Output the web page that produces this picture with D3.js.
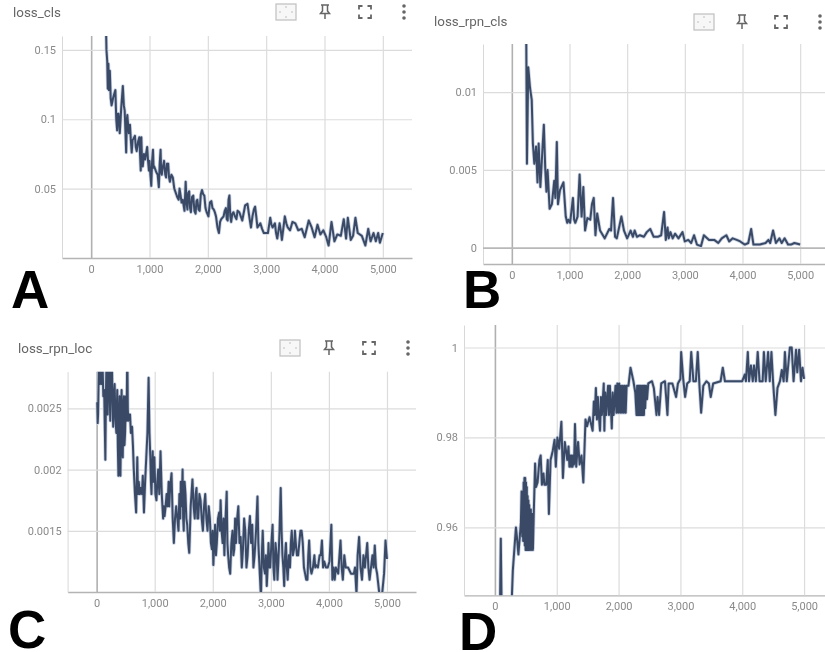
<!DOCTYPE html>
<html>
<head>
<meta charset="utf-8">
<script src="https://cdn.jsdelivr.net/npm/d3@7"></script>
<style>
  html, body { margin: 0; padding: 0; background: #fff; }
  svg { display: block; }
</style>
</head>
<body>
<div id="chart"></div>
<script>
// Values, as [step, value]
const xTicks = [0, 1000, 2000, 3000, 4000, 5000];

const yTicksA = [0.05, 0.1, 0.15];
const seriesA = [[250,0.175],[262,0.15],[275,0.142],[285,0.122],[295,0.14],[305,0.121],[320,0.135],[335,0.115],[350,0.11],[380,0.116],[415,0.121],[430,0.1],[445,0.092],[458,0.104],[470,0.104],[490,0.09],[505,0.1],[515,0.108],[543,0.124],[560,0.11],[575,0.106],[600,0.076],[612,0.1],[620,0.103],[635,0.095],[645,0.09],[665,0.096],[680,0.085],[695,0.076],[710,0.085],[725,0.086],[750,0.088],[765,0.08],[780,0.077],[805,0.084],[825,0.087],[850,0.063],[860,0.087],[872,0.07],[885,0.066],[905,0.075],[925,0.071],[960,0.08],[975,0.07],[990,0.063],[1000,0.07],[1015,0.06],[1030,0.052],[1045,0.07],[1060,0.078],[1070,0.065],[1080,0.066],[1115,0.062],[1140,0.06],[1160,0.051],[1175,0.068],[1190,0.078],[1200,0.062],[1210,0.06],[1230,0.066],[1250,0.07],[1270,0.06],[1285,0.058],[1300,0.068],[1320,0.068],[1335,0.058],[1350,0.055],[1375,0.06],[1400,0.058],[1425,0.05],[1450,0.047],[1475,0.044],[1500,0.042],[1515,0.05],[1530,0.046],[1550,0.04],[1570,0.042],[1600,0.034],[1620,0.055],[1635,0.04],[1650,0.035],[1665,0.047],[1680,0.048],[1695,0.036],[1710,0.033],[1730,0.044],[1750,0.045],[1770,0.034],[1790,0.032],[1805,0.041],[1820,0.042],[1840,0.035],[1860,0.034],[1880,0.046],[1900,0.049],[1920,0.046],[1940,0.045],[1960,0.036],[1980,0.033],[2010,0.03],[2035,0.04],[2060,0.041],[2080,0.036],[2100,0.035],[2120,0.033],[2140,0.03],[2165,0.022],[2190,0.018],[2210,0.026],[2230,0.028],[2270,0.03],[2290,0.034],[2310,0.036],[2325,0.028],[2340,0.027],[2355,0.042],[2370,0.045],[2385,0.03],[2400,0.026],[2420,0.032],[2440,0.033],[2465,0.03],[2490,0.028],[2510,0.034],[2540,0.033],[2565,0.03],[2590,0.027],[2640,0.038],[2680,0.039],[2710,0.03],[2740,0.022],[2765,0.03],[2790,0.035],[2810,0.037],[2830,0.03],[2850,0.022],[2900,0.025],[2930,0.021],[2960,0.018],[3030,0.018],[3070,0.029],[3090,0.024],[3110,0.022],[3150,0.025],[3170,0.018],[3190,0.014],[3230,0.025],[3250,0.02],[3270,0.013],[3320,0.03],[3345,0.025],[3370,0.022],[3410,0.02],[3450,0.026],[3500,0.025],[3550,0.02],[3610,0.021],[3660,0.015],[3730,0.027],[3780,0.022],[3830,0.015],[3880,0.024],[3930,0.017],[3980,0.02],[4030,0.015],[4070,0.009],[4120,0.026],[4170,0.012],[4220,0.017],[4280,0.016],[4330,0.028],[4370,0.014],[4400,0.029],[4450,0.013],[4490,0.016],[4530,0.029],[4570,0.018],[4640,0.016],[4700,0.009],[4750,0.021],[4790,0.012],[4840,0.018],[4880,0.012],[4920,0.018],[4950,0.011],[5000,0.018]];

const yTicksB = [0, 0.005, 0.01];
const seriesB = [[250,0.0135],[262,0.0054],[285,0.0116],[315,0.0103],[345,0.0095],[365,0.0067],[390,0.0054],[420,0.0065],[445,0.0042],[465,0.0067],[495,0.0039],[520,0.0056],[555,0.0079],[580,0.005],[600,0.0036],[620,0.005],[655,0.0025],[695,0.0028],[735,0.0043],[755,0.0032],[780,0.0068],[800,0.0028],[835,0.0037],[895,0.0042],[935,0.002],[960,0.0016],[980,0.0018],[1010,0.0016],[1060,0.0032],[1080,0.0018],[1100,0.0016],[1140,0.002],[1175,0.0047],[1210,0.002],[1240,0.0039],[1270,0.0011],[1310,0.0019],[1360,0.0018],[1390,0.0028],[1420,0.0032],[1450,0.0008],[1480,0.0022],[1530,0.0011],[1610,0.0006],[1690,0.0012],[1720,0.0011],[1755,0.0032],[1790,0.0007],[1820,0.0006],[1900,0.002],[1945,0.0011],[2000,0.0006],[2060,0.0011],[2100,0.0007],[2130,0.0011],[2170,0.0007],[2220,0.0008],[2290,0.0007],[2340,0.001],[2400,0.0012],[2460,0.0007],[2530,0.0007],[2590,0.0008],[2640,0.0023],[2670,0.0005],[2700,0.0013],[2720,0.0006],[2750,0.001],[2790,0.0006],[2830,0.0009],[2890,0.0006],[2960,0.001],[3000,0.0004],[3060,0.0005],[3110,0.0003],[3160,0.0008],[3210,0.0002],[3280,0.0001],[3330,0.0008],[3420,0.0005],[3510,0.0005],[3580,0.0003],[3640,0.0006],[3720,0.0008],[3770,0.0004],[3830,0.0006],[3900,0.0005],[3960,0.0004],[4040,0.0002],[4100,0.0003],[4150,0.0012],[4190,0.0002],[4300,0.0002],[4400,0.0003],[4450,0.0005],[4480,0.0003],[4530,0.0011],[4580,0.0003],[4640,0.0006],[4680,0.0003],[4730,0.0006],[4790,0.0002],[4840,0.0002],[4900,0.0003],[5000,0.0002]];

const yTicksC = [0.0015, 0.002, 0.0025];
const seriesC = [[10,0.00255],[18,0.00238],[25,0.00245],[40,0.0029],[55,0.0027],[70,0.003],[85,0.0027],[100,0.0029],[115,0.0026],[130,0.00265],[150,0.00208],[160,0.0026],[170,0.0029],[180,0.0025],[190,0.00245],[200,0.0028],[215,0.003],[225,0.0026],[235,0.0024],[248,0.0028],[260,0.003],[272,0.0026],[285,0.00235],[298,0.0026],[310,0.0027],[325,0.0024],[340,0.0023],[355,0.00265],[365,0.0022],[375,0.00195],[385,0.0024],[395,0.0026],[402,0.0021],[410,0.00195],[420,0.0024],[430,0.00265],[440,0.0022],[450,0.0021],[460,0.0025],[470,0.0026],[480,0.0022],[490,0.0023],[505,0.0026],[516,0.0024],[528,0.003],[537,0.0025],[545,0.0024],[560,0.00245],[575,0.00245],[590,0.0023],[610,0.00235],[625,0.0022],[640,0.002],[660,0.0018],[680,0.00165],[700,0.0021],[712,0.0018],[725,0.0019],[745,0.0018],[760,0.00185],[780,0.0018],[795,0.00195],[805,0.0018],[815,0.00165],[835,0.0019],[855,0.0021],[875,0.0023],[895,0.00275],[910,0.0023],[925,0.0021],[935,0.0019],[945,0.0018],[955,0.002],[965,0.00215],[980,0.0019],[995,0.0021],[1012,0.0018],[1030,0.00175],[1045,0.0019],[1060,0.002],[1080,0.0018],[1100,0.00215],[1122,0.0018],[1145,0.0016],[1158,0.0017],[1170,0.00162],[1188,0.0017],[1205,0.0018],[1222,0.0017],[1240,0.0019],[1250,0.0017],[1260,0.0018],[1275,0.0019],[1290,0.00197],[1310,0.0016],[1330,0.0014],[1350,0.0016],[1370,0.0017],[1390,0.0016],[1410,0.0015],[1425,0.0018],[1440,0.0016],[1450,0.0019],[1465,0.0017],[1480,0.002],[1490,0.0016],[1500,0.0015],[1515,0.0019],[1530,0.0018],[1545,0.0016],[1560,0.00155],[1578,0.0014],[1595,0.00132],[1620,0.0017],[1650,0.00192],[1670,0.0017],[1690,0.0016],[1705,0.0018],[1720,0.00185],[1735,0.0016],[1750,0.0016],[1770,0.0018],[1790,0.00175],[1810,0.0016],[1830,0.0015],[1850,0.0017],[1870,0.0018],[1890,0.0016],[1910,0.0015],[1930,0.0017],[1950,0.0016],[1968,0.0014],[1985,0.00135],[1998,0.0015],[2010,0.00122],[2025,0.0014],[2040,0.00155],[2055,0.0013],[2070,0.0014],[2090,0.0016],[2110,0.00165],[2122,0.0015],[2135,0.00175],[2152,0.0015],[2170,0.0014],[2185,0.0016],[2200,0.0013],[2220,0.0016],[2240,0.00182],[2252,0.0014],[2265,0.0013],[2282,0.0012],[2300,0.00115],[2320,0.0014],[2340,0.0015],[2355,0.0013],[2370,0.00135],[2385,0.0016],[2400,0.0014],[2420,0.0016],[2440,0.0017],[2460,0.0014],[2480,0.00145],[2500,0.0012],[2520,0.00135],[2540,0.0016],[2560,0.0015],[2580,0.0012],[2600,0.0013],[2620,0.0015],[2640,0.00162],[2660,0.0014],[2680,0.00155],[2700,0.0012],[2720,0.0013],[2745,0.0015],[2770,0.00178],[2785,0.0014],[2800,0.00125],[2815,0.0011],[2830,0.00095],[2845,0.0013],[2860,0.0015],[2880,0.0012],[2900,0.00115],[2915,0.0013],[2930,0.00105],[2945,0.0012],[2960,0.0014],[2975,0.0012],[2990,0.0012],[3010,0.0014],[3030,0.00155],[3045,0.0012],[3060,0.0011],[3080,0.0014],[3100,0.0013],[3115,0.0011],[3130,0.00125],[3150,0.0015],[3170,0.00185],[3185,0.0015],[3200,0.0013],[3215,0.0012],[3230,0.00105],[3245,0.0013],[3260,0.0014],[3275,0.0012],[3290,0.0011],[3310,0.0013],[3330,0.0012],[3345,0.0014],[3360,0.0015],[3380,0.0013],[3400,0.00135],[3415,0.0015],[3430,0.0014],[3450,0.0013],[3470,0.0013],[3490,0.0014],[3510,0.0015],[3530,0.0015],[3550,0.0014],[3570,0.0012],[3590,0.00115],[3610,0.0011],[3630,0.0011],[3645,0.0013],[3660,0.00142],[3680,0.0012],[3700,0.00115],[3725,0.0012],[3750,0.0013],[3765,0.0012],[3780,0.00122],[3810,0.0012],[3840,0.0013],[3860,0.0013],[3880,0.00142],[3900,0.0012],[3920,0.00125],[3950,0.0012],[3980,0.0012],[4010,0.00125],[4042,0.00155],[4060,0.0011],[4080,0.0012],[4100,0.0011],[4120,0.0012],[4160,0.00115],[4200,0.00142],[4220,0.0012],[4240,0.0011],[4265,0.0013],[4290,0.0012],[4330,0.0012],[4380,0.00115],[4430,0.00115],[4450,0.0012],[4475,0.00098],[4495,0.0013],[4520,0.00145],[4545,0.0012],[4570,0.0011],[4595,0.0013],[4620,0.0012],[4660,0.0014],[4680,0.0012],[4700,0.0011],[4725,0.0012],[4750,0.0013],[4770,0.0012],[4790,0.00138],[4810,0.0012],[4830,0.00115],[4870,0.00098],[4910,0.00095],[4950,0.00115],[4975,0.00142],[5000,0.00127]];

const yTicksD = [0.96, 0.98, 1];
const seriesD = [[80,0.94],[95,0.9575],[110,0.94],[270,0.943],[290,0.9505],[340,0.96],[355,0.958],[380,0.954],[420,0.961],[431,0.968],[442,0.958],[450,0.968],[457,0.957],[464,0.970],[470,0.957],[477,0.971],[483,0.956],[490,0.971],[496,0.955],[503,0.970],[509,0.955],[516,0.969],[522,0.955],[529,0.967],[535,0.955],[542,0.966],[548,0.955],[555,0.965],[561,0.955],[568,0.964],[574,0.955],[581,0.964],[587,0.955],[594,0.963],[600,0.955],[607,0.963],[615,0.955],[630,0.964],[650,0.9742],[665,0.969],[690,0.97],[720,0.975],[740,0.976],[760,0.9695],[785,0.972],[800,0.9695],[830,0.9695],[855,0.975],[873,0.963],[900,0.975],[935,0.977],[965,0.9795],[985,0.9735],[1010,0.98],[1040,0.9775],[1075,0.9835],[1100,0.971],[1130,0.979],[1170,0.975],[1190,0.978],[1205,0.9735],[1220,0.976],[1232,0.9735],[1244,0.976],[1256,0.9735],[1268,0.976],[1280,0.974],[1295,0.983],[1315,0.9735],[1345,0.979],[1370,0.974],[1400,0.976],[1430,0.97],[1465,0.984],[1490,0.9825],[1530,0.9845],[1580,0.9815],[1600,0.988],[1615,0.985],[1633,0.991],[1650,0.984],[1665,0.989],[1680,0.985],[1700,0.9815],[1715,0.989],[1730,0.985],[1760,0.992],[1770,0.9815],[1785,0.99],[1800,0.985],[1830,0.9915],[1845,0.985],[1860,0.9915],[1890,0.982],[1905,0.99],[1920,0.985],[1950,0.9915],[1965,0.9855],[1980,0.992],[1995,0.9855],[2010,0.992],[2025,0.9855],[2040,0.9915],[2055,0.9855],[2070,0.9915],[2085,0.9855],[2100,0.9915],[2115,0.9855],[2130,0.9915],[2160,0.9915],[2193,0.9955],[2240,0.9925],[2270,0.99],[2290,0.985],[2300,0.9915],[2310,0.985],[2320,0.9915],[2330,0.985],[2340,0.9915],[2350,0.985],[2360,0.9915],[2370,0.985],[2380,0.9915],[2390,0.985],[2400,0.9915],[2410,0.985],[2420,0.9915],[2430,0.9865],[2445,0.9915],[2460,0.9885],[2480,0.992],[2540,0.9925],[2570,0.991],[2613,0.985],[2630,0.989],[2655,0.985],[2690,0.992],[2750,0.9925],[2790,0.985],[2810,0.992],[2870,0.992],[2930,0.989],[2960,0.992],[3000,0.993],[3012,0.999],[3045,0.993],[3076,0.989],[3110,0.992],[3150,0.9925],[3175,0.999],[3210,0.9925],[3250,0.9925],[3280,0.999],[3310,0.991],[3335,0.9855],[3370,0.9915],[3420,0.9925],[3460,0.992],[3490,0.989],[3530,0.992],[3650,0.9925],[3685,0.9955],[3720,0.9925],[4000,0.9925],[4040,0.994],[4060,0.9925],[4090,0.999],[4110,0.9925],[4140,0.996],[4170,0.9925],[4190,0.996],[4220,0.9925],[4250,0.999],[4280,0.9925],[4330,0.9925],[4350,0.999],[4380,0.9925],[4418,0.999],[4445,0.9925],[4472,0.999],[4500,0.992],[4536,0.985],[4570,0.991],[4610,0.9925],[4640,0.995],[4670,0.9925],[4690,0.999],[4720,0.9925],[4770,1],[4800,1],[4830,0.9925],[4870,0.9995],[4890,0.9945],[4920,0.9995],[4950,0.9925],[4975,0.9955],[5000,0.993]];

const panels = [
  { title: "loss_cls", letter: "A", series: seriesA, yTicks: yTicksA, yDomain: [0, 0.16],
    box: [62, 412, 36, 258], titlePos: [13, 17], letterPos: [11, 308], icons: [286, 325, 365, 404, 12] },
  { title: "loss_rpn_cls", letter: "B", series: seriesB, yTicks: yTicksB, yDomain: [-0.00105, 0.0131],
    box: [483, 829, 44, 264], titlePos: [434, 26], letterPos: [463, 308], icons: [704, 742, 781, 820, 22] },
  { title: "loss_rpn_loc", letter: "C", series: seriesC, yTicks: yTicksC, yDomain: [0.001, 0.0028],
    box: [67.6, 416, 371.7, 592], titlePos: [18, 353], letterPos: [8, 648], icons: [290, 329, 369, 408, 348] },
  { title: "", letter: "D", series: seriesD, yTicks: yTicksD, yDomain: [0.9449, 1.005],
    box: [464, 835, 325, 595.3], titlePos: [0, 0], letterPos: [459, 650], icons: null }
];

const width = 825;
const height = 652;

const svg = d3.select("#chart").append("svg")
  .attr("width", width)
  .attr("height", height)
  .style("filter", "blur(0.45px)");

panels.forEach((p, i) => {
  const [left, right, top, bottom] = p.box;
  const g = svg.append("g").attr("class", "panel");

  const x = d3.scaleLinear().domain([-500, 5500]).range([left, right]);
  const y = d3.scaleLinear().domain(p.yDomain).range([bottom, top]);

  // Grid comes from the axes' long ticks
  const xAxis = g.append("g")
    .attr("transform", `translate(0,${bottom})`)
    .call(d3.axisBottom(x).tickValues(xTicks).tickSizeInner(-(bottom - top)).tickSizeOuter(0).tickPadding(7).tickFormat(d3.format(",")));
  const yAxis = g.append("g")
    .attr("transform", `translate(${left},0)`)
    .call(d3.axisLeft(y).tickValues(p.yTicks).tickSizeInner(-(right - left)).tickSizeOuter(0).tickPadding(6).tickFormat(d => String(d)));

  [xAxis, yAxis].forEach(axis => {
    axis.selectAll(".tick line").attr("stroke", "#dcdcdc").attr("stroke-width", 1.2);
    axis.selectAll(".tick text")
      .attr("fill", "#8a8a8a")
      .style("font-family", "Roboto, sans-serif")
      .style("font-size", "11px");
  });
  xAxis.select(".domain").attr("stroke", "#b4b4b4").attr("stroke-width", 1.3);
  yAxis.select(".domain").attr("stroke", "#d8d8d8").attr("stroke-width", 1);

  // Zero lines are darker than the grid
  xAxis.selectAll(".tick").filter(d => d === 0).select("line").attr("stroke", "#b0b0b0").attr("stroke-width", 1.6);
  yAxis.selectAll(".tick").filter(d => d === 0).select("line").attr("stroke", "#b8b8b8").attr("stroke-width", 1.6);

  const clipId = `clip-${i}`;
  svg.append("clipPath").attr("id", clipId)
    .append("rect")
    .attr("x", left).attr("y", top)
    .attr("width", right - left).attr("height", bottom - top);

  const line = d3.line()
    .x(d => x(d[0]))
    .y(d => y(d[1]));

  const series = g.append("g").attr("clip-path", `url(#${clipId})`);
  series.append("path")
    .attr("d", line(p.series))
    .attr("fill", "none")
    .attr("stroke", "#c9d2e2")
    .attr("stroke-width", 3.6)
    .attr("stroke-linejoin", "round");
  series.append("path")
    .attr("d", line(p.series))
    .attr("fill", "none")
    .attr("stroke", "#3a4a66")
    .attr("stroke-width", 2)
    .attr("stroke-linejoin", "round");

  if (p.title) {
    svg.append("text")
      .attr("x", p.titlePos[0])
      .attr("y", p.titlePos[1])
      .attr("fill", "#666")
      .style("font-family", "Roboto, sans-serif")
      .style("font-size", "13.4px")
      .text(p.title);
  }

  svg.append("text")
    .attr("x", p.letterPos[0])
    .attr("y", p.letterPos[1])
    .attr("fill", "#000")
    .style("font-family", "'Liberation Sans', Arial, sans-serif")
    .style("font-weight", "bold")
    .style("font-size", "53px")
    .text(p.letter);

  if (p.icons) drawIcons(svg, p.icons);
});

// Card toolbar: fit-to-data, pin, fullscreen, overflow menu
function drawIcons(parent, pos) {
  const [fitX, pinX, fullX, dotsX, cy] = pos;
  const color = "#666";

  const fit = parent.append("g").attr("transform", `translate(${fitX},${cy})`);
  fit.append("rect")
    .attr("x", -10).attr("y", -8).attr("width", 20).attr("height", 16)
    .attr("fill", "#f7f7f7").attr("stroke", "#c4c4c4").attr("stroke-width", 1.3);
  [[-6, 0], [6, 0], [0, -5], [0, 5]].forEach(([dx, dy]) => {
    fit.append("circle").attr("cx", dx).attr("cy", dy).attr("r", 0.7).attr("fill", "#aaa");
  });

  parent.append("path")
    .attr("transform", `translate(${pinX},${cy})`)
    .attr("d", "M-4,-7H4M-2.5,-7V-1L-4.5,1.5H4.5L2.5,-1V-7M0,1.5V7")
    .attr("fill", "none").attr("stroke", color).attr("stroke-width", 1.5);

  parent.append("path")
    .attr("transform", `translate(${fullX},${cy})`)
    .attr("d", "M-6,-2.5V-6H-2.5M2.5,-6H6V-2.5M6,2.5V6H2.5M-2.5,6H-6V2.5")
    .attr("fill", "none").attr("stroke", color).attr("stroke-width", 1.8);

  [-6, 0, 6].forEach(dy => {
    parent.append("circle").attr("cx", dotsX).attr("cy", cy + dy).attr("r", 1.8).attr("fill", color);
  });
}
</script>
</body>
</html>
